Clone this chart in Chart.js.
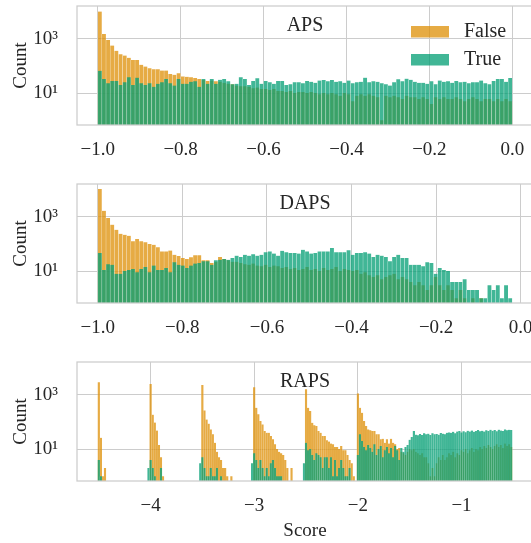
<!DOCTYPE html>
<html>
<head>
<meta charset="utf-8">
<script src="https://cdn.jsdelivr.net/npm/chart.js@4.4.1/dist/chart.umd.min.js"></script>
<style>
  html, body { margin: 0; padding: 0; background: #fff; overflow: hidden; width: 531px; height: 543px; }
  canvas { position: absolute; left: 0; }
</style>
</head>
<body>
<canvas id="aps" width="560" height="170" style="top:0px"></canvas>
<canvas id="daps" width="560" height="170" style="top:178px"></canvas>
<canvas id="raps" width="560" height="187" style="top:356px"></canvas>
<script>
// Histogram counts per bin (null = empty bin)
const apsFalse = [
  10000, 1500, 900, 560, 360, 270, 240, 200, 165, 165,
  110, 95, 82, 75, 75, 68, 68, 50, 47, 54,
  41, 40, 38, 36, 33, 30, 28, 29, 27, 26,
  24, 22, 21, 19, 18, 18, 17, 15, 16, 14,
  14, 13, 14, 12, 12, 11, 12, 10, 11, 11,
  10, 11, 10, 9, 10, 9, 10, 9, 8, 10,
  9, 5, 8, 9, 8, 9, 8, 7, 1, 8,
  7, 8, 7, 6, 8, 7, 7, 6, 7, 6,
  4, 7, 6, 7, 6, 6, 7, 6, 5, 6,
  7, 6, 5, 6, 6, 5, 6, 5, 6, 5
];
const apsTrue = [
  66, 33, 23, 28, 28, 20, 25, 38, 20, 37,
  23, 20, 23, 17, 22, 25, 33, 23, 19, 33,
  22, 22, 26, 27, 17, 33, 22, 33, 22, 31,
  33, 27, 21, 22, 38, 33, 20, 28, 35, 22,
  28, 25, 22, 28, 28, 20, 21, 25, 25, 23,
  28, 26, 24, 29, 30, 27, 30, 26, 27, 24,
  29, 23, 25, 26, 37, 25, 27, 26, 23, 21,
  19, 25, 32, 27, 34, 31, 26, 24, 24, 22,
  27, 21, 29, 26, 27, 24, 28, 25, 26, 23,
  25, 25, 29, 23, 21, 28, 33, 33, 26, 36
];
const dapsFalse = [
  10500, 1660, 890, 510, 330, 235, 218, 200, 124, 150,
  124, 114, 99, 93, 76, 53, 53, 57, 40, 36,
  30, 28, 32, 38, 38, 25, 25, 20, 22, 33,
  28, 25, 22, 22, 20, 18, 17, 19, 16, 15,
  17, 14, 16, 15, 13, 14, 12, 13, 11, 12,
  14, 11, 12, 10, 13, 11, 12, 14, 10, 12,
  11, 10, 11, 8, 9, 7, 6, 7, 5, 6,
  7, 8, 5, 6, 5, 4, 3, 4, 3, 2,
  3, 6, 3, 2, 3, 2, 1, 2, 1, null,
  1, null, 1, null, null, null, null, null, null, null
];
const dapsTrue = [
  46, 11, 18, 17, 8, 8, 10, 11, 12, 9,
  12, 14, 9, 16, 11, 11, 13, 9, 21, 17,
  16, 13, 16, 19, 20, 23, 23, 17, 25, 26,
  28, 26, 30, 37, 33, 40, 37, 42, 37, 40,
  49, 53, 44, 37, 56, 49, 46, 46, 44, 61,
  53, 44, 46, 53, 53, 53, 70, 49, 49, 49,
  58, 40, 46, 46, 49, 44, 33, 40, 37, 33,
  23, 33, 40, 30, 30, 17, 17, 17, 15, 21,
  20, 8, 13, 11, 10, 4, 4, 4, 5, 2,
  2, 2, 1, 1, 3, 2, 3, 1, 3, 1
];
const rapsFalse = [
  2900, 26, 1, 2, null, null, null, null, null, null,
  null, null, null, null, null, null, null, null, null, null,
  null, null, null, null, null, 2500, 185, 95, 48, 14,
  5, 1, null, null, null, null, null, null, null, null,
  null, null, null, null, null, null, null, null, null, null,
  2270, 265, 123, 86, 53, 35, 17, 8, 5, 4,
  2, 2, 1, null, 1, null, null, null, null, null,
  null, null, null, null, null, 1900, 330, 190, 107, 81,
  46, 40, 40, 30, 23, 15, 10, 8, 7, 6,
  4, 2, null, 2, null, null, null, null, null, null,
  1580, 330, 250, 93, 76, 70, 46, 40, 30, 30,
  21, 19, 16, 15, 12, 12, 10, 13, 9, 9,
  6, 4, 3, 1, null, 1120, 330, 218, 107, 70,
  53, 49, 46, 46, 35, 35, 23, 24, 17, 23,
  16, 24, 17, 15, 10, 11, 8, 7, 6, 8,
  10, 9, 10, 8, 7, 6, 7, 5, 5, 3,
  1, 2, 1, 3, 5, 4, 6, 4, 5, 7,
  6, 8, 5, 7, 6, 9, 8, 10, 7, 9,
  11, 8, 10, 9, 12, 10, 13, 11, 14, 12,
  10, 13, 15, 12, 14, 11, 16, 13, 15, 12
];
const rapsTrue = [
  4, 1, null, null, null, null, null, null, null, null,
  null, null, null, null, null, null, null, null, null, null,
  null, null, null, null, 2, 4, 2, 1, null, null,
  2, null, null, null, null, null, null, null, null, null,
  null, null, null, null, null, null, null, null, null, 3,
  5, 2, 1, 1, 2, 1, 1, 2, null, 1,
  null, null, null, null, null, null, null, null, null, null,
  null, null, null, null, 3, 7, 4, 2, 4, 2,
  1, 2, 1, 3, 4, 2, 1, 1, 1, null,
  null, null, null, null, null, null, null, null, null, 3,
  17, 9, 10, 6, 4, 7, 6, 5, 2, 5,
  5, 2, 5, 1, 4, 1, 2, 4, 2, 1,
  1, 2, null, null, null, 6, 35, 20, 12, 9,
  14, 11, 8, 15, 6, 10, 13, 5, 9, 12,
  7, 11, 5, 13, 9, 4, 11, 8, 12, 14,
  22, 28, 46, 34, 32, 36, 33, 38, 35, 37,
  33, 38, 35, 36, 34, 39, 37, 35, 40, 41,
  40, 43, 38, 44, 46, 41, 45, 42, 47, 44,
  48, 43, 46, 50, 45, 47, 44, 49, 46, 51,
  47, 50, 45, 52, 48, 46, 53, 49, 51, 50
];

// Bin layout: first edge and bin width for each score
const apsBins = { start: -1.0, width: 0.01 };
const dapsBins = { start: -1.0, width: 0.0098 };
const rapsBins = { start: -4.51, width: 0.02 };

// Axis ticks
const fracTicks = [-1.0, -0.8, -0.6, -0.4, -0.2, 0.0];
const rapsTicks = [-4, -3, -2, -1];
const countTicks = [10, 1000];
const seriesLabels = ['False', 'True'];

const TEXT = '#262626';
const GRID = '#cccccc';
const FALSE_FILL = 'rgba(222, 143, 5, 0.75)';
const TRUE_FILL = 'rgba(2, 158, 115, 0.75)';
const EDGE = 'rgba(255, 255, 255, 0.4)';

Chart.defaults.font.family = '"Liberation Serif", serif';
Chart.defaults.color = TEXT;

function toPoints(counts, bins) {
  return counts.map((c, i) => ({ x: bins.start + bins.width * (i + 0.5), y: c }));
}

function fmt(v, digits) {
  const s = Math.abs(v).toFixed(digits);
  return (v < -1e-9 ? '\u2212' : '') + s;
}

// score name written inside the top of each panel
const panelTitle = {
  id: 'panelTitle',
  afterDraw(chart, args, opts) {
    const { ctx, chartArea } = chart;
    ctx.save();
    ctx.font = '20px "Liberation Serif"';
    ctx.fillStyle = TEXT;
    ctx.textAlign = 'center';
    ctx.textBaseline = 'middle';
    ctx.fillText(opts.text, (chartArea.left + chartArea.right) / 2, chartArea.top + 20);
    ctx.restore();
  }
};

// light box round the plot area
const frame = {
  id: 'frame',
  afterDatasetsDraw(chart) {
    const { ctx, chartArea: a } = chart;
    ctx.save();
    ctx.strokeStyle = GRID;
    ctx.lineWidth = 1.25;
    ctx.strokeRect(a.left, a.top, a.right - a.left, a.bottom - a.top);
    ctx.restore();
  }
};

// frameless legend, top right of the first panel
const histLegend = {
  id: 'histLegend',
  afterDraw(chart) {
    const ctx = chart.ctx;
    ctx.save();
    ctx.font = '20px "Liberation Serif"';
    ctx.textBaseline = 'middle';
    chart.data.datasets.forEach((ds, i) => {
      const y = 26 + i * 28;
      ctx.fillStyle = ds.backgroundColor;
      ctx.fillRect(411, y, 38, 11.5);
      ctx.fillStyle = TEXT;
      ctx.fillText(ds.label, 464, y + 6);
    });
    ctx.restore();
  }
};

function makePanel(id, title, falseCounts, trueCounts, bins, xMin, xMax, ticks, digits, xTitle, withLegend, edgeWidth) {
  const canvas = document.getElementById(id);
  const H = canvas.height;
  const barStyle = {
    borderColor: EDGE,
    borderWidth: { left: edgeWidth, right: edgeWidth, top: 0, bottom: 0 },
    borderSkipped: false,
    barPercentage: 1,
    categoryPercentage: 1,
    grouped: false
  };
  const plugins = [panelTitle, frame];
  if (withLegend) plugins.push(histLegend);

  return new Chart(canvas, {
    type: 'bar',
    data: {
      datasets: [
        Object.assign({ label: seriesLabels[0], data: toPoints(falseCounts, bins), backgroundColor: FALSE_FILL, order: 2 }, barStyle),
        Object.assign({ label: seriesLabels[1], data: toPoints(trueCounts, bins), backgroundColor: TRUE_FILL, order: 1 }, barStyle)
      ]
    },
    options: {
      responsive: false,
      animation: false,
      layout: { padding: { top: 6, right: 27, left: 0, bottom: 0 } },
      plugins: {
        legend: { display: false },
        tooltip: { enabled: false },
        panelTitle: { text: title }
      },
      scales: {
        x: {
          type: 'linear',
          bounds: 'data',
          offset: false,
          min: xMin,
          max: xMax,
          afterBuildTicks: s => { s.ticks = ticks.map(v => ({ value: v })); },
          afterFit: s => { s.height = H - 125; s.paddingLeft = 0; s.paddingRight = 0; },
          grid: { color: GRID, lineWidth: 1, drawTicks: false, offset: false },
          border: { display: false },
          ticks: {
            padding: 14,
            font: { size: 19 },
            maxRotation: 0,
            autoSkip: false,
            callback: v => fmt(v, digits)
          },
          title: {
            display: !!xTitle,
            text: xTitle || '',
            font: { size: 19 },
            padding: { top: 0, bottom: 1 }
          }
        },
        y: {
          type: 'logarithmic',
          bounds: 'data',
          min: 0.67,
          max: 16000,
          afterBuildTicks: s => { s.ticks = countTicks.map(v => ({ value: v })); },
          afterFit: s => { s.width = 77; s.paddingTop = 0; s.paddingBottom = 0; },
          grid: { color: GRID, lineWidth: 1, drawTicks: false },
          border: { display: false },
          ticks: {
            padding: 19,
            font: { size: 19 },
            callback: v => v === 10 ? '10\u00b9' : '10\u00b3'
          },
          title: {
            display: true,
            text: 'Count',
            font: { size: 19 },
            padding: { top: 10, bottom: 0 }
          }
        }
      }
    },
    plugins: plugins
  });
}

makePanel('aps', 'APS', apsFalse, apsTrue, apsBins, -1.05, 0.05, fracTicks, 1, null, true, 0.45);
makePanel('daps', 'DAPS', dapsFalse, dapsTrue, dapsBins, -1.049, 0.029, fracTicks, 1, null, false, 0.45);
makePanel('raps', 'RAPS', rapsFalse, rapsTrue, rapsBins, -4.71, -0.31, rapsTicks, 0, 'Score', false, 0.2);
</script>
</body>
</html>
